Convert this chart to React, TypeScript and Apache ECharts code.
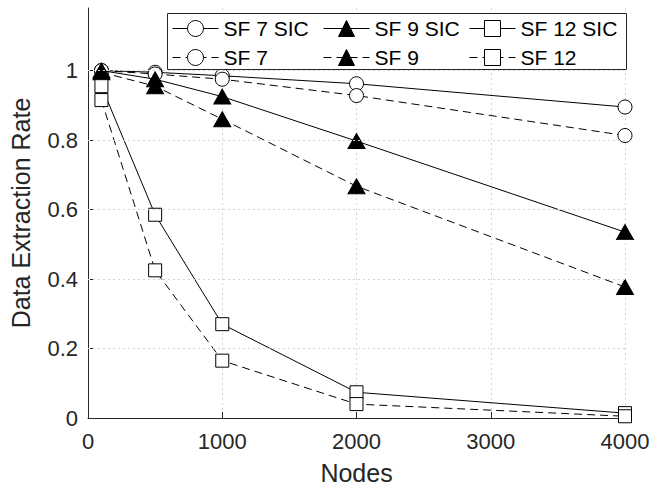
import React, { useEffect, useRef } from 'react';
import * as echarts from 'echarts';

// ---- data ----
const nodes = [100, 500, 1000, 2000, 4000];
const sf7Sic = [1.0, 0.995, 0.985, 0.962, 0.895];
const sf7 = [1.0, 0.99, 0.975, 0.928, 0.813];
const sf9Sic = [1.0, 0.975, 0.925, 0.797, 0.535];
const sf9 = [0.995, 0.955, 0.86, 0.667, 0.377];
const sf12Sic = [0.955, 0.585, 0.27, 0.074, 0.014];
const sf12 = [0.915, 0.425, 0.165, 0.04, 0.005];
const xTicks = [0, 1000, 2000, 3000, 4000];
const yTicks = [0, 0.2, 0.4, 0.6, 0.8, 1];
const seriesNames = ['SF 7 SIC', 'SF 7', 'SF 9 SIC', 'SF 9', 'SF 12 SIC', 'SF 12'];
const seriesValues = [sf7Sic, sf7, sf9Sic, sf9, sf12Sic, sf12];

const FONT = '"Liberation Sans", Arial, Helvetica, sans-serif';
const AX = '#262626';
const GRID = '#d4d4d4';

const styleFor = (i: number) => {
  const dashed = i % 2 === 1;
  const kind = Math.floor(i / 2);
  const symbol = kind === 0 ? 'circle' : kind === 1 ? 'triangle' : 'rect';
  const symbolSize = kind === 0 ? 14 : kind === 1 ? [17, 15] : 13;
  const fill = kind === 1 ? '#000' : '#fff';
  return { dashed, symbol, symbolSize, fill };
};

const legendPos = [
  { left: 172, top: 18 },
  { left: 172, top: 47 },
  { left: 323, top: 18 },
  { left: 323, top: 47 },
  { left: 469, top: 18 },
  { left: 469, top: 47 },
];

const fmtY = (v: number) => {
  const r = Math.round(v * 10) / 10;
  return yTicks.some((t) => Math.abs(t - v) < 1e-6) ? String(r) : '';
};

export default function App() {
  const ref = useRef<HTMLDivElement>(null);
  useEffect(() => {
    if (!ref.current) return;
    const chart = echarts.init(ref.current, null, { renderer: 'svg' });
    const xMax = xTicks[xTicks.length - 1];
    const series: any[] = [
      {
        name: 'grid',
        type: 'line',
        data: [],
        z: 1,
        silent: true,
        markLine: {
          silent: true,
          symbol: ['none', 'none'],
          label: { show: false },
          animation: false,
          lineStyle: { type: [2, 3], color: GRID, width: 1 },
          data: yTicks.filter((v) => v > 0).map((v) => ({ yAxis: v })),
        },
      },
    ];
    seriesNames.forEach((name, i) => {
      const s = styleFor(i);
      series.push({
        name,
        type: 'line',
        data: nodes.map((x, j) => [x, seriesValues[i][j]]),
        symbol: s.symbol,
        symbolSize: s.symbolSize,
        showAllSymbol: true,
        z: 2 + i * 0.01,
        lineStyle: { color: '#000', width: 1, type: s.dashed ? [8, 5] : 'solid' },
        itemStyle: { color: s.fill, borderColor: '#000', borderWidth: 1 },
        emphasis: { disabled: true },
      });
    });
    const option: any = {
      animation: false,
      textStyle: { fontFamily: FONT },
      grid: { left: 85, right: 40, top: 8, bottom: 70, containLabel: false },
      xAxis: {
        type: 'value',
        min: 0,
        max: xMax,
        interval: 1000,
        name: 'Nodes',
        nameLocation: 'middle',
        nameGap: 42,
        nameTextStyle: { fontSize: 25, color: AX, fontFamily: FONT },
        axisLine: { show: true, onZero: false, lineStyle: { color: AX, width: 1 } },
        axisTick: { show: true, inside: true, length: 6, lineStyle: { color: AX } },
        axisLabel: { fontSize: 22, color: AX, margin: 12, fontFamily: FONT,
          formatter: (v: number) => (xTicks.includes(v) ? String(v) : '') },
        splitLine: { show: true, lineStyle: { type: [2, 3], color: GRID, width: 1 } },
      },
      yAxis: {
        type: 'value',
        min: 0,
        max: 1.18,
        interval: 0.2,
        name: 'Data Extraction Rate',
        nameLocation: 'middle',
        nameGap: 55,
        nameTextStyle: { fontSize: 25, color: AX, fontFamily: FONT },
        axisLine: { show: true, onZero: false, lineStyle: { color: AX, width: 1 } },
        axisTick: { show: true, inside: true, length: 6, lineStyle: { color: AX }, customValues: yTicks },
        axisLabel: {
          fontSize: 22, color: AX, margin: 10, fontFamily: FONT,
          customValues: yTicks,
          formatter: fmtY,
        },
        splitLine: { show: false },
      },
      legend: seriesNames.map((name, i) => ({
        data: [name],
        left: legendPos[i].left,
        top: legendPos[i].top,
        padding: 0,
        itemWidth: 46,
        itemHeight: 20,
        selectedMode: false,
        textStyle: { fontSize: 21, color: '#000', fontFamily: FONT },
        itemStyle: { borderWidth: 1 },
        lineStyle: { width: 1 },
      })),
      graphic: [
        {
          type: 'rect',
          z: 3,
          shape: { x: 167.5, y: 13.5, width: 459, height: 56 },
          style: { fill: '#fff', stroke: AX, lineWidth: 1 },
        },
      ],
      series,
    };
    chart.setOption(option);
    return () => chart.dispose();
  }, []);
  return (
    <div
      ref={ref}
      style={{ position: 'fixed', left: 0, top: 0, width: 665, height: 490, background: '#fff' }}
    />
  );
}
